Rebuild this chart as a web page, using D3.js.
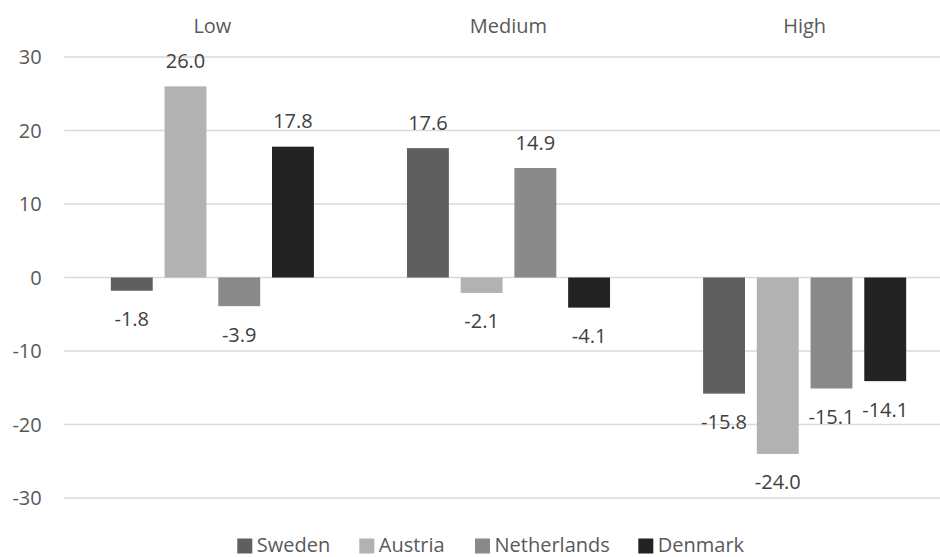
<!DOCTYPE html>
<html>
<head>
<meta charset="utf-8">
<script src="https://cdn.jsdelivr.net/npm/d3@7"></script>
<style>
  html, body { margin: 0; padding: 0; background: #fff; }
  svg { display: block; font-family: "Open Sans", "Noto Sans", sans-serif; }
</style>
</head>
<body>
<svg id="chart" width="940" height="557"></svg>
<script>
const categories = ["Low", "Medium", "High"];
const seriesNames = ["Sweden", "Austria", "Netherlands", "Denmark"];
const sweden = [-1.8, 17.6, -15.8];
const austria = [26.0, -2.1, -24.0];
const netherlands = [-3.9, 14.9, -15.1];
const denmark = [17.8, -4.1, -14.1];
const yTicks = [-30, -20, -10, 0, 10, 20, 30];
const colors = ["#5f5f5f", "#b2b2b2", "#898989", "#232323"];

const seriesValues = [sweden, austria, netherlands, denmark];

const svg = d3.select("#chart");
const W = 940, H = 557;

const x0 = d3.scaleBand().domain(categories).range([64.3, 952.7]).paddingInner(0).paddingOuter(0);
const x1 = d3.scaleBand().domain(seriesNames).range([0, x0.bandwidth()]).paddingInner(0.22).paddingOuter(0.866);
const y = d3.scaleLinear().domain([-35, 35]).range([534.75, 20.25]);

// gridlines
svg.append("g").selectAll("line").data(yTicks).join("line")
  .attr("x1", 64.3).attr("x2", W)
  .attr("y1", d => y(d)).attr("y2", d => y(d))
  .attr("stroke", "#d9d9d9").attr("stroke-width", 1.3);

// y tick labels
svg.append("g").selectAll("text").data(yTicks).join("text")
  .attr("x", 41.7).attr("y", d => y(d))
  .attr("dy", "0.35em")
  .attr("text-anchor", "end")
  .attr("font-size", 20)
  .attr("fill", "#595959")
  .text(d => d);

// category labels at top
svg.append("g").selectAll("text").data(categories).join("text")
  .attr("x", d => x0(d) + x0.bandwidth() / 2)
  .attr("y", 33)
  .attr("text-anchor", "middle")
  .attr("font-size", 20)
  .attr("fill", "#595959")
  .text(d => d);

// bars
const flat = [];
categories.forEach((c, ci) => {
  seriesNames.forEach((s, si) => {
    flat.push({cat: c, series: s, si: si, value: seriesValues[si][ci]});
  });
});

svg.append("g").selectAll("rect").data(flat).join("rect")
  .attr("x", d => x0(d.cat) + x1(d.series))
  .attr("width", x1.bandwidth())
  .attr("y", d => y(Math.max(0, d.value)))
  .attr("height", d => Math.abs(y(d.value) - y(0)))
  .attr("fill", d => colors[d.si]);

// value labels
svg.append("g").selectAll("text").data(flat).join("text")
  .attr("x", d => x0(d.cat) + x1(d.series) + x1.bandwidth() / 2)
  .attr("y", d => d.value >= 0 ? y(d.value) - 18.3 : y(d.value) + 35.4)
  .attr("text-anchor", "middle")
  .attr("font-size", 20)
  .attr("fill", "#404040")
  .text(d => d3.format(".1f")(d.value).replace("−", "-"));

// legend
const legendX = [237.3, 359.3, 475, 638.3];
const leg = svg.append("g").selectAll("g").data(seriesNames).join("g")
  .attr("transform", (d, i) => `translate(${legendX[i]},0)`);
leg.append("rect").attr("x", 0).attr("y", 538.5).attr("width", 15).attr("height", 15)
  .attr("fill", (d, i) => colors[i]);
leg.append("text").attr("x", 19.5).attr("y", 551.5)
  .attr("font-size", 20).attr("fill", "#595959")
  .text(d => d);
</script>
</body>
</html>
